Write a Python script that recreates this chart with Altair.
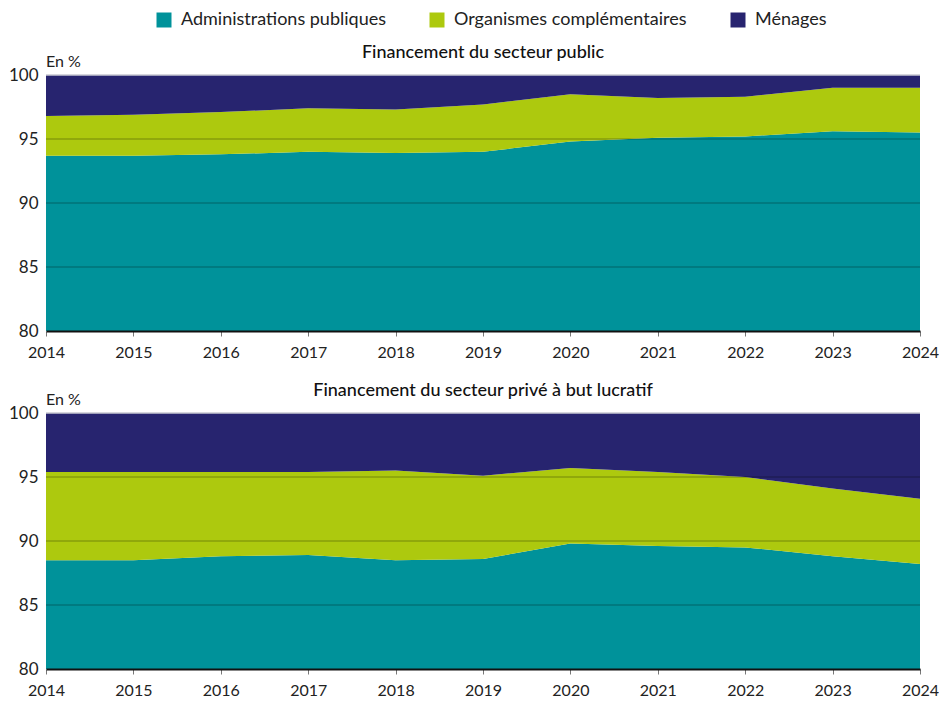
import altair as alt
import pandas as pd

years = list(range(2014, 2025))
series = ["Administrations publiques", "Organismes complémentaires", "Ménages"]
colors = ["#00929A", "#ADC90E", "#27246F"]

# Financement du secteur public (en %)
pub_admin = [93.7, 93.7, 93.8, 94.0, 93.9, 94.0, 94.8, 95.1, 95.2, 95.6, 95.5]
pub_oc = [3.1, 3.2, 3.3, 3.4, 3.4, 3.7, 3.7, 3.1, 3.1, 3.4, 3.5]
pub_men = [3.2, 3.1, 2.9, 2.6, 2.7, 2.3, 1.5, 1.8, 1.7, 1.0, 1.0]

# Financement du secteur privé à but lucratif (en %)
priv_admin = [88.5, 88.5, 88.8, 88.9, 88.5, 88.6, 89.8, 89.6, 89.5, 88.8, 88.2]
priv_oc = [6.9, 6.9, 6.6, 6.5, 7.0, 6.5, 5.9, 5.8, 5.5, 5.3, 5.1]
priv_men = [4.6, 4.6, 4.6, 4.6, 4.5, 4.9, 4.3, 4.6, 5.0, 5.9, 6.7]

y_ticks = [80, 85, 90, 95, 100]
grid_vals = [85, 90, 95]
unit_label = "En %"
FONT = "Lato"
W, H = 874, 256


def long_df(admin, oc, men):
    rows = []
    for i, y in enumerate(years):
        for k, (s, v) in enumerate(zip(series, [admin[i], oc[i], men[i]])):
            rows.append({"year": y, "series": s, "value": v, "idx": k})
    return pd.DataFrame(rows)


def panel(df, title):
    legend = alt.Legend(title=None, orient="none", direction="horizontal",
                        legendX=109, legendY=-64, symbolType="square",
                        symbolSize=225, symbolStrokeWidth=0, labelLimit=0,
                        labelFontSize=18, labelColor="#222", labelFont=FONT,
                        columnPadding=42, labelOffset=8)
    area = alt.Chart(df).mark_area(clip=True, interpolate="linear").encode(
        x=alt.X("year:Q",
                scale=alt.Scale(domain=[2014, 2024], nice=False, zero=False),
                axis=alt.Axis(values=years, format="d", title=None, labelFontSize=16,
                              labelColor="#222", tickSize=5, tickColor="#777",
                              domainColor="#111", domainWidth=2, labelPadding=8,
                              labelFlush=False, labelOverlap=False,
                              grid=False, zindex=1)),
        y=alt.Y("value:Q", stack="zero",
                scale=alt.Scale(domain=[80, 100], nice=False, zero=False),
                axis=alt.Axis(values=y_ticks, title=None,
                              grid=False, domain=False, ticks=False, labelPadding=8,
                              labelFontSize=17, labelColor="#222")),
        color=alt.Color("series:N", scale=alt.Scale(domain=series, range=colors),
                        legend=legend),
        order=alt.Order("idx:Q"),
    )
    grid = alt.Chart(pd.DataFrame({"v": grid_vals})).mark_rule(
        color="#000", opacity=0.22, strokeWidth=1.5).encode(y="v:Q")
    top = alt.Chart(pd.DataFrame({"v": [100]})).mark_rule(
        color="#c9c9d2", strokeWidth=1.5).encode(y="v:Q")
    unit = alt.Chart(pd.DataFrame({"t": [unit_label]})).mark_text(
        align="left", baseline="bottom", fontSize=16, color="#222", font=FONT
    ).encode(text="t:N", x=alt.value(0), y=alt.value(-5))
    ttl = alt.Chart(pd.DataFrame({"t": [title]})).mark_text(
        align="center", baseline="middle", fontSize=18, fontWeight=500,
        color="#111", font=FONT
    ).encode(text="t:N", x=alt.value(W / 2), y=alt.value(-22))
    return alt.layer(area, grid, top, unit, ttl).properties(width=W, height=H)


top_chart = panel(long_df(pub_admin, pub_oc, pub_men), "Financement du secteur public")
bottom_chart = panel(long_df(priv_admin, priv_oc, priv_men),
                     "Financement du secteur privé à but lucratif")

chart = alt.vconcat(top_chart, bottom_chart, spacing=22).configure(
    font=FONT, padding={"left": 0, "right": 0, "top": 3, "bottom": 0}
).configure_view(stroke=None)

chart.save("out.html", embed_options={"renderer": "svg", "actions": False})
